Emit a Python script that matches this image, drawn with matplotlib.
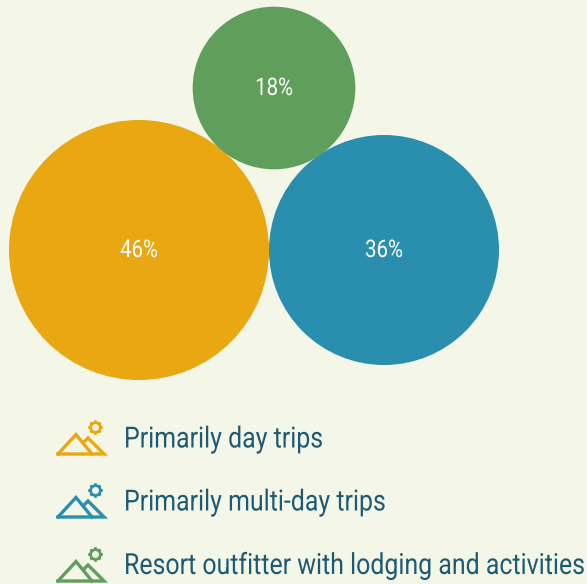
import matplotlib
matplotlib.use('Agg')
import numpy as np
import matplotlib.pyplot as plt
from matplotlib.patches import Circle
from matplotlib.patheffects import AbstractPathEffect
from matplotlib.transforms import Affine2D

shares = [46, 36, 18]
share_labels = ['46%', '36%', '18%']
categories = ['Primarily day trips', 'Primarily multi-day trips',
              'Resort outfitter with lodging and activities']
colors = ['#E9A811', '#2A8FAF', '#609E5B']
centre_x = [139, 384, 274]
centre_y = [250, 250, 88]
legend_base = [447.5, 510.5, 574]
icon_base = [454, 517, 581]

bg = '#F4F6E8'
txt = '#1E5B72'


# Roboto Condensed isn't installed, so stretch plain Roboto upward from the baseline
class Tall(AbstractPathEffect):
    def __init__(self, sy):
        super().__init__()
        self.sy = sy

    def draw_path(self, renderer, gc, tpath, affine, rgbFace=None):
        renderer.draw_path(gc, tpath, Affine2D().scale(1, self.sy) + affine, rgbFace)


fig = plt.figure(figsize=(5.87, 5.84), dpi=100, facecolor=bg)
ax = fig.add_axes([0, 0, 1, 1])
ax.set_xlim(0, 587)
ax.set_ylim(584, 0)
ax.axis('off')

for i in range(3):
    r = 19.17 * np.sqrt(shares[i])
    ax.add_patch(Circle((centre_x[i], centre_y[i]), r, fc=colors[i], ec='none'))
    t = ax.text(centre_x[i], centre_y[i] + 7, share_labels[i], color='white', family='Roboto',
                fontsize=14.7, ha='center', va='baseline')
    t.set_path_effects([Tall(1.19)])

# little mountain icons in the legend
for i in range(3):
    y = icon_base[i]
    c = colors[i]
    ax.plot([58, 76, 92], [y, y - 19.5, y], color=c, lw=2.4, solid_joinstyle='miter')
    ax.plot([84, 88, 104, 58], [y - 12, y - 16, y, y], color=c, lw=2.4, solid_joinstyle='miter')
    ax.plot([95], [y - 27], marker=(8, 2, 0), ms=10, mec=c, mew=1.7, ls='none')
    ax.plot([95], [y - 27], 'o', ms=7, mfc=bg, mec=c, mew=2, ls='none')
    t = ax.text(124, legend_base[i], categories[i], color=txt, family='Roboto', fontsize=17.93,
                ha='left', va='baseline')
    t.set_path_effects([Tall(1.171)])

fig.savefig('out.png', dpi=100, facecolor=bg)
